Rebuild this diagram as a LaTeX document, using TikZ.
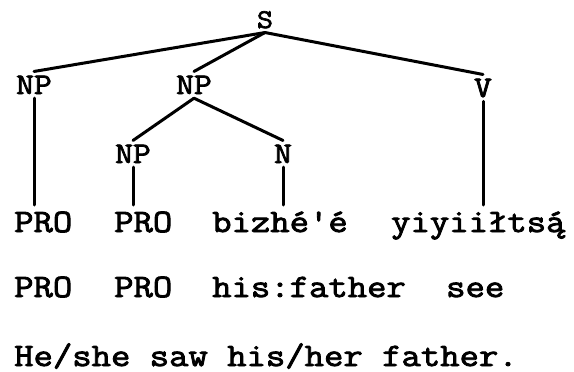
\documentclass[tikz,border=0pt]{standalone}
\usepackage{fontspec}
\setmonofont{Latin Modern Mono}[FakeStretch=1.15, FakeBold=2.6]
\begin{document}
\begin{tikzpicture}[x=1pt,y=-1pt,
  lab/.style={font=\ttfamily\fontsize{30}{30}\selectfont, inner sep=4pt, anchor=base},
  wrd/.style={font=\ttfamily\fontsize{32.7}{33}\selectfont, inner sep=0pt, anchor=base west},
  br/.style={line width=3pt, line cap=round}]
\useasboundingbox (0,0) rectangle (574,372);
% tree labels
\node[lab, font=\ttfamily\fontsize{27}{27}\selectfont] (S) at (265,28) {S};
\node[lab] (NPa) at (34,94) {NP};
\node[lab] (NPb) at (194,94) {NP};
\node[lab] (V) at (483,97) {V};
\node[lab] (NPc) at (133,163) {NP};
\node[lab] (N) at (283,163) {N};
% words
\node[wrd] (w1) at (14,232) {PRO};
\node[wrd] (w2) at (114,232) {PRO};
\node[wrd] (w3) at (212,232) {bizhé'é};
\node[wrd] (w4) at (391,232) {yiyiiłtsą́};
\node[wrd] (g1) at (14,297) {PRO};
\node[wrd] (g2) at (114,297) {PRO};
\node[wrd] (g3) at (212,297) {his:father};
\node[wrd] (g4) at (446,297) {see};
\node[wrd] (tr) at (14,366) {He/she saw his/her father.};
\coordinate (bot) at (0,205);
% branches
\draw[br] (S.south) -- (NPa.north);
\draw[br] (S.south) -- (NPb.north);
\draw[br] (S.south) -- (V.north);
\draw[br] (NPb.south) -- (NPc.north);
\draw[br] (NPb.south) -- (N.north);
\draw[br] (NPa.south) -- (NPa.south |- bot);
\draw[br] (NPc.south) -- (NPc.south |- bot);
\draw[br] (N.south) -- (N.south |- bot);
\draw[br] (V.south) -- (V.south |- bot);
\end{tikzpicture}
\end{document}
